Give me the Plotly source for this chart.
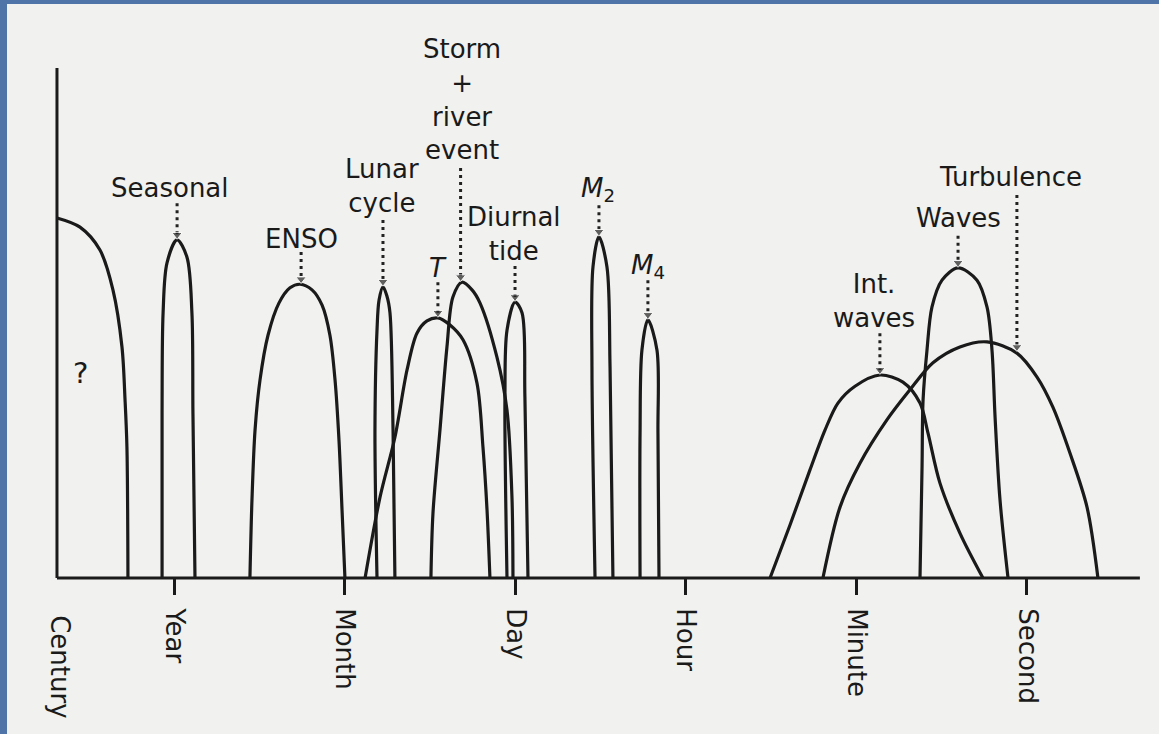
import plotly.graph_objects as go

_INK = "#1a1a1a"
_PAGE = "#f1f1ef"
_FRAME = "#4f74a8"
_FONT = "DejaVu Sans"

# x: schematic time-scale position (Year=1 ... Second=6), y: relative energy (axis top = 100)
TICK_POS = [1, 2, 3, 4, 5, 6]
TICK_TEXT = ["Year", "Month", "Day", "Hour", "Minute", "Second"]
CENTURY_POS = 0.332
AXIS_X0, AXIS_X1, AXIS_TOP = 0.314, 6.662, 100

century_x = [0.314, 0.449, 0.566, 0.642, 0.695, 0.713, 0.724, 0.730]
century_y = [70.6, 68.8, 64.3, 56.5, 45.3, 34.9, 25.7, 0]

seasonal_x = [0.930, 0.930, 0.936, 0.959, 1.018, 1.076, 1.105, 1.111, 1.123]
seasonal_y = [0, 32.4, 52.0, 61.8, 66.3, 62.9, 52.0, 32.4, 0]

enso_x = [1.445, 1.457, 1.475, 1.504, 1.551, 1.615, 1.680, 1.739,
          1.809, 1.868, 1.914, 1.944, 1.967, 1.985, 2.002]
enso_y = [0, 15.3, 29.0, 38.8, 47.6, 53.9, 56.9, 57.6,
          56.5, 53.5, 47.6, 38.8, 27.1, 13.3, 0]

lunar_x = [2.190, 2.178, 2.190, 2.202, 2.225, 2.248, 2.266, 2.284, 2.295]
lunar_y = [0, 29.0, 48.6, 54.5, 57.1, 55.3, 52.0, 29.0, 0]

tide_t_x = [2.120, 2.208, 2.295, 2.366, 2.424, 2.483, 2.547, 2.618,
            2.694, 2.776, 2.811, 2.835, 2.852]
tide_t_y = [0, 15.9, 27.6, 40.8, 48.0, 50.4, 51.0, 49.6,
            46.7, 38.2, 25.7, 13.3, 0]

storm_x = [2.506, 2.518, 2.559, 2.600, 2.635, 2.688, 2.747, 2.794,
           2.893, 2.952, 2.981, 2.987]
storm_y = [0, 12.7, 29.0, 45.3, 55.1, 58.0, 56.5, 53.9,
           43.3, 32.9, 15.9, 0]

diurnal_x = [2.952, 2.940, 2.952, 2.999, 3.040, 3.057, 3.075]
diurnal_y = [0, 35.5, 48.6, 54.1, 52.0, 35.5, 0]

m2_x = [3.468, 3.450, 3.456, 3.491, 3.538, 3.556, 3.573]
m2_y = [0, 41.4, 61.0, 66.9, 61.0, 41.4, 0]

m4_x = [3.732, 3.732, 3.743, 3.778, 3.831, 3.837, 3.843]
m4_y = [0, 28.4, 44.7, 50.6, 44.7, 28.4, 0]

intwave_x = [4.494, 4.611, 4.728, 4.816, 4.892, 4.992, 5.138, 5.273,
             5.373, 5.420, 5.490, 5.607, 5.742]
intwave_y = [0, 10.4, 21.2, 29.0, 34.3, 37.6, 39.8, 38.4,
             34.3, 28.4, 18.6, 8.8, 0]

waves_x = [5.373, 5.385, 5.391, 5.414, 5.443, 5.502, 5.596, 5.707,
           5.766, 5.795, 5.813, 5.842, 5.889]
waves_y = [0, 21.8, 34.9, 44.7, 53.1, 58.4, 60.8, 58.4,
           53.1, 44.7, 31.6, 15.3, 0]

turb_x = [4.804, 4.904, 5.021, 5.179, 5.314, 5.449, 5.607, 5.766,
          5.941, 6.059, 6.152, 6.252, 6.352, 6.416]
turb_y = [0, 13.9, 22.5, 31.0, 36.9, 42.2, 45.3, 46.3,
          44.1, 39.4, 33.5, 24.5, 13.9, 0]

CURVES = [
    (century_x, century_y), (seasonal_x, seasonal_y), (enso_x, enso_y),
    (lunar_x, lunar_y), (tide_t_x, tide_t_y), (storm_x, storm_y),
    (diurnal_x, diurnal_y), (m2_x, m2_y), (m4_x, m4_y),
    (intwave_x, intwave_y), (waves_x, waves_y), (turb_x, turb_y),
]

# labels: text, x, y (centre)
LABELS = ["?", "Seasonal", "ENSO", "Lunar<br>cycle", "<i>T</i>",
          "Storm<br>+<br>river<br>event", "Diurnal<br>tide",
          "<i>M</i><sub>2</sub>", "<i>M</i><sub>4</sub>", "Int.<br>waves",
          "Waves", "Turbulence"]
LABEL_X = [0.449, 0.977, 1.750, 2.219, 2.547, 2.688, 2.993,
           3.486, 3.778, 5.105, 5.601, 5.906]
LABEL_Y = [40.2, 76.5, 66.5, 76.9, 60.8, 93.9, 67.5,
           76.1, 61.0, 54.3, 70.6, 78.6]

# dotted pointers: x, top, tip
ARROW_X = [1.018, 1.745, 2.225, 2.547, 2.680, 2.999, 3.491, 3.778, 5.138, 5.596, 5.941]
ARROW_TOP = [73.5, 63.9, 70.2, 58.0, 80.4, 61.2, 73.1, 58.4, 48.0, 67.1, 75.1]
ARROW_TIP = [67.3, 58.6, 58.1, 52.0, 59.0, 55.1, 67.9, 51.6, 40.8, 61.8, 45.3]

fig = go.Figure()

for cx, cy in CURVES:
    fig.add_trace(go.Scatter(
        x=cx, y=cy, mode="lines",
        line=dict(color=_INK, width=3.2, shape="spline", smoothing=0.9),
        hoverinfo="skip", showlegend=False,
    ))

for ax, a0, a1 in zip(ARROW_X, ARROW_TOP, ARROW_TIP):
    fig.add_trace(go.Scatter(
        x=[ax, ax], y=[a0, a1], mode="lines+markers",
        line=dict(color="#222222", width=3, dash="3px,4px"),
        marker=dict(symbol="triangle-down", size=[0, 9], color="#222222"),
        hoverinfo="skip", showlegend=False,
    ))

for txt, lx, ly in zip(LABELS, LABEL_X, LABEL_Y):
    fig.add_annotation(
        x=lx, y=ly, text=txt, showarrow=False,
        font=dict(family=_FONT, size=26 if txt != "?" else 29, color=_INK),
    )

fig.add_annotation(
    x=CENTURY_POS, y=-17.3, text="Century", textangle=90, showarrow=False,
    font=dict(family=_FONT, size=26, color=_INK),
)

# axis lines
fig.add_shape(type="line", x0=AXIS_X0, x1=AXIS_X1, y0=0, y1=0,
              line=dict(color=_INK, width=3))
fig.add_shape(type="line", x0=AXIS_X0, x1=AXIS_X0, y0=0, y1=AXIS_TOP,
              line=dict(color=_INK, width=3))

fig.update_layout(
    width=1159, height=734, autosize=False,
    paper_bgcolor=_FRAME, plot_bgcolor=_PAGE,
    margin=dict(l=7, r=0, t=4, b=0, pad=0),
    font=dict(family=_FONT, color=_INK),
)
fig.update_xaxes(
    range=[0.021, 6.774], anchor="free", position=0.2137,
    tickvals=TICK_POS, ticktext=TICK_TEXT, tickangle=90,
    ticks="outside", ticklen=16, tickwidth=2.5, tickcolor=_INK,
    ticklabelstandoff=8,
    tickfont=dict(family=_FONT, size=26, color=_INK),
    showgrid=False, zeroline=False, showline=False,
)
fig.update_yaxes(range=[-30.59, 112.55], visible=False)

fig.write_html(
    "out.html",
    config={"displayModeBar": False},
    post_script="document.body.style.margin='0';document.body.style.overflow='hidden';",
)
